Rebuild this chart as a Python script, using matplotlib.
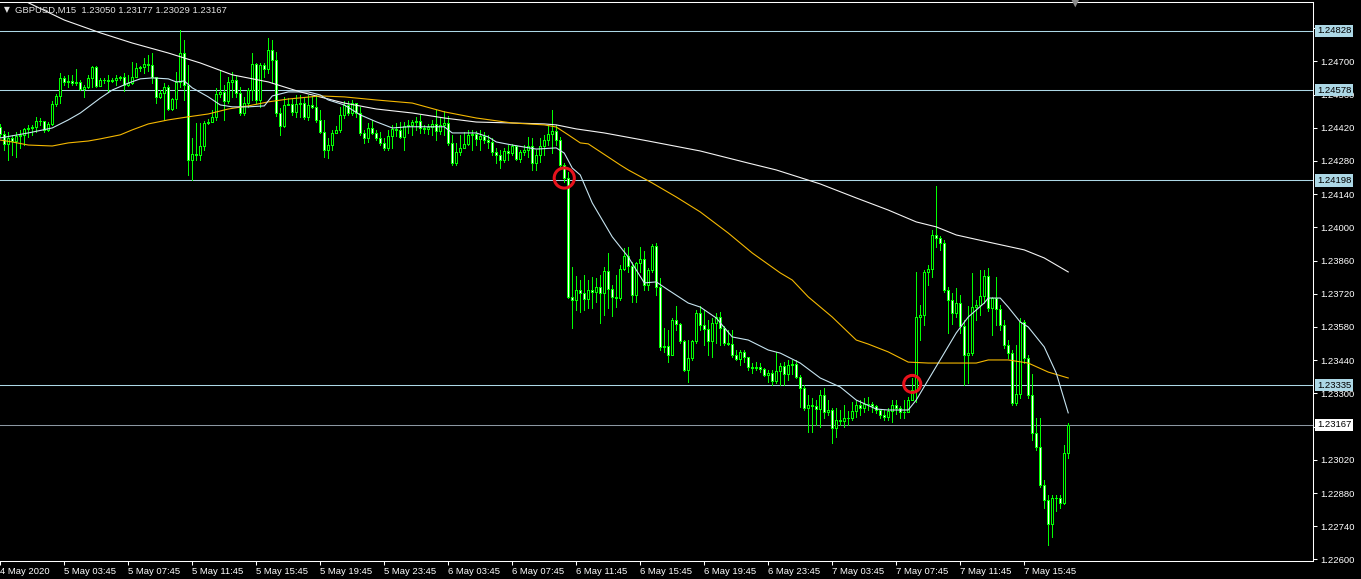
import matplotlib
matplotlib.use("Agg")
import matplotlib.pyplot as plt
from matplotlib.ticker import FuncFormatter
from matplotlib.transforms import blended_transform_factory

# ---------------- data (GBPUSD M15, bar index 0 = 4 May 23:45) ----------------
first_open = 1.24424

closes = [
    1.24394, 1.24351, 1.24377, 1.24364, 1.24386, 1.24390, 1.24415, 1.24419, 1.24424, 1.24449,
    1.24449, 1.24411, 1.24436, 1.24520, 1.24554, 1.24630, 1.24613, 1.24617, 1.24608, 1.24613,
    1.24583, 1.24592, 1.24630, 1.24677, 1.24596, 1.24621, 1.24621, 1.24617, 1.24621, 1.24630,
    1.24634, 1.24600, 1.24608, 1.24634, 1.24672, 1.24676, 1.24689, 1.24685, 1.24634, 1.24550,
    1.24566, 1.24592, 1.24499, 1.24541, 1.24613, 1.24735, 1.24600, 1.24284, 1.24309, 1.24305,
    1.24343, 1.24440, 1.24445, 1.24466, 1.24563, 1.24571, 1.24533, 1.24613, 1.24621, 1.24566,
    1.24482, 1.24524, 1.24579, 1.24689, 1.24537, 1.24685, 1.24668, 1.24748, 1.24706, 1.24482,
    1.24428, 1.24516, 1.24520, 1.24487, 1.24520, 1.24524, 1.24466, 1.24516, 1.24508, 1.24453,
    1.24403, 1.24326, 1.24347, 1.24398, 1.24411, 1.24474, 1.24516, 1.24482, 1.24524, 1.24482,
    1.24398, 1.24377, 1.24419, 1.24398, 1.24377, 1.24356, 1.24335, 1.24386, 1.24415, 1.24411,
    1.24381, 1.24428, 1.24432, 1.24445, 1.24449, 1.24419, 1.24415, 1.24424, 1.24436, 1.24407,
    1.24432, 1.24440, 1.24356, 1.24271, 1.24318, 1.24335, 1.24351, 1.24390, 1.24394, 1.24373,
    1.24386, 1.24368, 1.24360, 1.24318, 1.24305, 1.24284, 1.24322, 1.24313, 1.24343, 1.24288,
    1.24318, 1.24326, 1.24343, 1.24271, 1.24305, 1.24343, 1.24368, 1.24394, 1.24407, 1.24368,
    1.24263, 1.24208, 1.23707, 1.23694, 1.23736, 1.23723, 1.23698, 1.23736, 1.23728, 1.23749,
    1.23723, 1.23816, 1.23740, 1.23707, 1.23702, 1.23824, 1.23879, 1.23837, 1.23715, 1.23850,
    1.23866, 1.23757, 1.23820, 1.23921, 1.23749, 1.23496, 1.23500, 1.23462, 1.23610, 1.23593,
    1.23521, 1.23399, 1.23449, 1.23521, 1.23639, 1.23588, 1.23571, 1.23521, 1.23597, 1.23622,
    1.23576, 1.23512, 1.23508, 1.23462, 1.23445, 1.23475, 1.23454, 1.23411, 1.23407, 1.23411,
    1.23403, 1.23378, 1.23386, 1.23353, 1.23394, 1.23416, 1.23382, 1.23420, 1.23424, 1.23369,
    1.23323, 1.23239, 1.23251, 1.23247, 1.23234, 1.23294, 1.23222, 1.23230, 1.23154, 1.23188,
    1.23184, 1.23196, 1.23196, 1.23226, 1.23251, 1.23239, 1.23256, 1.23256, 1.23247, 1.23230,
    1.23209, 1.23201, 1.23226, 1.23251, 1.23239, 1.23222, 1.23222, 1.23272, 1.23315, 1.23622,
    1.23631, 1.23812, 1.23824, 1.23968, 1.23955, 1.23934, 1.23736, 1.23694, 1.23639, 1.23681,
    1.23584, 1.23462, 1.23470, 1.23664, 1.23673, 1.23711, 1.23795, 1.23660, 1.23702, 1.23656,
    1.23588, 1.23504, 1.23470, 1.23260, 1.23298, 1.23601, 1.23449, 1.23294, 1.23133, 1.23074,
    1.22914, 1.22851, 1.22750, 1.22860, 1.22860, 1.22838, 1.23050, 1.23167,
]

highs = [
    1.24436, 1.24407, 1.24403, 1.24390, 1.24403, 1.24411, 1.24419, 1.24432, 1.24432, 1.24466,
    1.24462, 1.24445, 1.24445, 1.24533, 1.24563, 1.24651, 1.24638, 1.24643, 1.24643, 1.24668,
    1.24621, 1.24600, 1.24643, 1.24680, 1.24680, 1.24630, 1.24630, 1.24643, 1.24630, 1.24643,
    1.24638, 1.24651, 1.24643, 1.24697, 1.24693, 1.24680, 1.24714, 1.24727, 1.24735, 1.24634,
    1.24579, 1.24608, 1.24600, 1.24545, 1.24655, 1.24832, 1.24790, 1.24685, 1.24377, 1.24440,
    1.24440, 1.24449, 1.24457, 1.24495, 1.24588, 1.24664, 1.24600, 1.24634, 1.24655, 1.24638,
    1.24592, 1.24550, 1.24588, 1.24735, 1.24693, 1.24693, 1.24693, 1.24798, 1.24790, 1.24739,
    1.24503, 1.24550, 1.24545, 1.24541, 1.24558, 1.24558, 1.24550, 1.24558, 1.24554, 1.24558,
    1.24495, 1.24453, 1.24377, 1.24411, 1.24428, 1.24508, 1.24533, 1.24533, 1.24537, 1.24520,
    1.24508, 1.24411, 1.24440, 1.24453, 1.24411, 1.24403, 1.24377, 1.24411, 1.24432, 1.24440,
    1.24445, 1.24445, 1.24453, 1.24453, 1.24466, 1.24474, 1.24432, 1.24436, 1.24453, 1.24495,
    1.24466, 1.24491, 1.24470, 1.24390, 1.24356, 1.24390, 1.24403, 1.24411, 1.24411, 1.24407,
    1.24411, 1.24403, 1.24390, 1.24377, 1.24335, 1.24326, 1.24335, 1.24347, 1.24351, 1.24347,
    1.24326, 1.24347, 1.24381, 1.24377, 1.24326, 1.24377, 1.24390, 1.24432, 1.24495, 1.24432,
    1.24381, 1.24271, 1.24234, 1.23833, 1.23795, 1.23778, 1.23799, 1.23778, 1.23791, 1.23787,
    1.23799, 1.23833, 1.23892, 1.23757, 1.23799, 1.23841, 1.23913, 1.23917, 1.23854, 1.23854,
    1.23917, 1.23900, 1.23829, 1.23930, 1.23934, 1.23787, 1.23576, 1.23567, 1.23618, 1.23669,
    1.23597, 1.23525, 1.23525, 1.23525, 1.23652, 1.23669, 1.23652, 1.23610, 1.23618, 1.23639,
    1.23643, 1.23584, 1.23567, 1.23567, 1.23483, 1.23483, 1.23483, 1.23453, 1.23428, 1.23432,
    1.23428, 1.23407, 1.23399, 1.23399, 1.23475, 1.23428, 1.23432, 1.23441, 1.23441, 1.23441,
    1.23378, 1.23336, 1.23294, 1.23281, 1.23272, 1.23315, 1.23323, 1.23272, 1.23239, 1.23239,
    1.23230, 1.23251, 1.23226, 1.23264, 1.23272, 1.23272, 1.23281, 1.23285, 1.23264, 1.23251,
    1.23230, 1.23230, 1.23239, 1.23272, 1.23272, 1.23247, 1.23272, 1.23285, 1.23365, 1.23812,
    1.23673, 1.23820, 1.23841, 1.23989, 1.24175, 1.23964, 1.23947, 1.23749, 1.23723, 1.23745,
    1.23715, 1.23610, 1.23669, 1.23808, 1.23694, 1.23820, 1.23820, 1.23829, 1.23707, 1.23791,
    1.23673, 1.23610, 1.23525, 1.23483, 1.23504, 1.23618, 1.23610, 1.23462, 1.23382, 1.23196,
    1.23196, 1.22935, 1.22872, 1.22872, 1.22872, 1.22872, 1.23083, 1.23177,
]

lows = [
    1.24381, 1.24326, 1.24284, 1.24305, 1.24296, 1.24335, 1.24347, 1.24381, 1.24390, 1.24403,
    1.24432, 1.24403, 1.24407, 1.24432, 1.24512, 1.24524, 1.24600, 1.24592, 1.24600, 1.24600,
    1.24579, 1.24550, 1.24588, 1.24592, 1.24592, 1.24596, 1.24608, 1.24571, 1.24613, 1.24600,
    1.24621, 1.24575, 1.24596, 1.24604, 1.24634, 1.24659, 1.24651, 1.24659, 1.24608, 1.24524,
    1.24545, 1.24453, 1.24495, 1.24495, 1.24503, 1.24592, 1.24537, 1.24221, 1.24200, 1.24284,
    1.24284, 1.24326, 1.24436, 1.24445, 1.24453, 1.24550, 1.24453, 1.24524, 1.24550, 1.24550,
    1.24474, 1.24474, 1.24508, 1.24537, 1.24524, 1.24508, 1.24634, 1.24651, 1.24608, 1.24470,
    1.24390, 1.24424, 1.24516, 1.24474, 1.24466, 1.24466, 1.24457, 1.24453, 1.24503, 1.24445,
    1.24398, 1.24296, 1.24292, 1.24326, 1.24398, 1.24403, 1.24462, 1.24474, 1.24474, 1.24466,
    1.24390, 1.24356, 1.24360, 1.24394, 1.24368, 1.24347, 1.24326, 1.24326, 1.24335, 1.24386,
    1.24377, 1.24326, 1.24398, 1.24390, 1.24411, 1.24398, 1.24398, 1.24394, 1.24390, 1.24368,
    1.24394, 1.24390, 1.24347, 1.24263, 1.24263, 1.24305, 1.24335, 1.24347, 1.24326, 1.24347,
    1.24326, 1.24356, 1.24335, 1.24305, 1.24271, 1.24250, 1.24275, 1.24284, 1.24305, 1.24284,
    1.24275, 1.24305, 1.24296, 1.24242, 1.24242, 1.24275, 1.24305, 1.24347, 1.24313, 1.24347,
    1.24250, 1.24191, 1.23702, 1.23576, 1.23652, 1.23643, 1.23652, 1.23660, 1.23660, 1.23685,
    1.23597, 1.23631, 1.23660, 1.23626, 1.23664, 1.23694, 1.23820, 1.23812, 1.23685, 1.23685,
    1.23812, 1.23736, 1.23736, 1.23812, 1.23715, 1.23483, 1.23475, 1.23432, 1.23462, 1.23567,
    1.23512, 1.23394, 1.23348, 1.23441, 1.23512, 1.23567, 1.23504, 1.23462, 1.23453, 1.23512,
    1.23504, 1.23504, 1.23504, 1.23453, 1.23441, 1.23420, 1.23432, 1.23399, 1.23386, 1.23399,
    1.23390, 1.23373, 1.23348, 1.23336, 1.23344, 1.23336, 1.23336, 1.23357, 1.23382, 1.23365,
    1.23243, 1.23230, 1.23137, 1.23137, 1.23167, 1.23158, 1.23196, 1.23209, 1.23091, 1.23116,
    1.23167, 1.23158, 1.23167, 1.23188, 1.23201, 1.23209, 1.23222, 1.23230, 1.23222, 1.23218,
    1.23196, 1.23188, 1.23188, 1.23180, 1.23213, 1.23196, 1.23196, 1.23222, 1.23272, 1.23264,
    1.23525, 1.23588, 1.23757, 1.23791, 1.23916, 1.23905, 1.23728, 1.23555, 1.23593, 1.23622,
    1.23555, 1.23336, 1.23344, 1.23462, 1.23610, 1.23631, 1.23681, 1.23647, 1.23546, 1.23588,
    1.23567, 1.23491, 1.23449, 1.23251, 1.23251, 1.23281, 1.23428, 1.23281, 1.23104, 1.23062,
    1.22905, 1.22818, 1.22661, 1.22695, 1.22805, 1.22818, 1.22835, 1.23029,
]

# moving averages at these bar indices
slow_ma_bars = [0, 5, 16, 25, 33, 42, 50, 58, 67, 75, 86, 94, 103, 111, 119, 128, 136,
                139, 144, 151, 162, 175, 187, 194, 205, 214, 222, 229, 234, 239, 247,
                256, 261, 267]
slow_ma = [1.25001, 1.24963, 1.24874, 1.24820, 1.24777, 1.24735, 1.24693, 1.24643,
           1.24613, 1.24571, 1.24524, 1.24499, 1.24482, 1.24461, 1.24444, 1.24440,
           1.24436, 1.24432, 1.24415, 1.24398, 1.24364, 1.24322, 1.24271, 1.24242,
           1.24183, 1.24124, 1.24073, 1.24023, 1.24002, 1.23968, 1.23938, 1.23905,
           1.23871, 1.23812]

mid_ma_bars = [0, 3, 7, 13, 17, 22, 25, 30, 33, 37, 42, 47, 52, 57, 62, 67, 72, 80, 86,
               94, 103, 111, 119, 128, 136, 139, 142, 145, 147, 155, 157, 163, 169, 175,
               182, 188, 195, 198, 202, 208, 214, 217, 222, 227, 232, 237, 244, 247,
               252, 257, 262, 267]
mid_ma = [1.24368, 1.24360, 1.24347, 1.24343, 1.24356, 1.24364, 1.24373, 1.24390,
          1.24411, 1.24436, 1.24453, 1.24466, 1.24478, 1.24499, 1.24512, 1.24529,
          1.24541, 1.24554, 1.24550, 1.24537, 1.24524, 1.24487, 1.24461, 1.24440,
          1.24432, 1.24423, 1.24390, 1.24356, 1.24352, 1.24263, 1.24242, 1.24187,
          1.24128, 1.24065, 1.23976, 1.23892, 1.23808, 1.23778, 1.23707, 1.23622,
          1.23525, 1.23508, 1.23475, 1.23432, 1.23428, 1.23428, 1.23428, 1.23441,
          1.23441, 1.23428, 1.23390, 1.23365]

fast_ma_bars = [0, 7, 13, 17, 20, 25, 28, 32, 35, 38, 42, 44, 46, 48, 52, 55, 58, 62, 66,
                68, 72, 77, 80, 82, 86, 90, 94, 98, 102, 107, 111, 113, 119, 122, 124,
                128, 134, 139, 141, 143, 145, 148, 153, 157, 161, 164, 167, 172, 175,
                179, 183, 187, 192, 195, 200, 205, 210, 214, 219, 222, 227, 229, 232,
                236, 239, 242, 246, 247, 250, 252, 255, 257, 261, 264, 267]
fast_ma = [1.24377, 1.24398, 1.24419, 1.24453, 1.24482, 1.24545, 1.24579, 1.24608,
           1.24626, 1.24630, 1.24626, 1.24613, 1.24617, 1.24588, 1.24550, 1.24516,
           1.24508, 1.24508, 1.24512, 1.24554, 1.24571, 1.24571, 1.24558, 1.24537,
           1.24516, 1.24474, 1.24445, 1.24419, 1.24424, 1.24424, 1.24424, 1.24398,
           1.24398, 1.24381, 1.24360, 1.24347, 1.24330, 1.24335, 1.24313, 1.24250,
           1.24221, 1.24103, 1.23960, 1.23875, 1.23766, 1.23770, 1.23736, 1.23681,
           1.23664, 1.23618, 1.23538, 1.23525, 1.23483, 1.23470, 1.23428, 1.23365,
           1.23327, 1.23272, 1.23234, 1.23230, 1.23230, 1.23272, 1.23357, 1.23470,
           1.23555, 1.23622, 1.23681, 1.23702, 1.23702, 1.23664, 1.23601, 1.23580,
           1.23496, 1.23386, 1.23218]

levels = [1.24828, 1.24578, 1.24198, 1.23335]
bid = 1.23167

circle_bars = [141, 228]
circle_prices = [1.24208, 1.23340]

time_bars = [0, 16, 32, 48, 64, 80, 96, 112, 128, 144, 160, 176, 192, 208, 224, 240, 256]
time_labels = ["4 May 2020", "5 May 03:45", "5 May 07:45", "5 May 11:45", "5 May 15:45",
               "5 May 19:45", "5 May 23:45", "6 May 03:45", "6 May 07:45", "6 May 11:45",
               "6 May 15:45", "6 May 19:45", "6 May 23:45", "7 May 03:45", "7 May 07:45",
               "7 May 11:45", "7 May 15:45"]
price_ticks = [1.22600 + 0.0014 * k for k in range(17)]
# scale labels that sit fully under a price box in the terminal
hidden_ticks = [1.24840, 1.23160]

title = "GBPUSD,M15  1.23050 1.23177 1.23029 1.23167"

# ---------------- styling ----------------
GREEN = "#00ff00"
FONT = "Liberation Sans"
W, H = 1361, 579

fig = plt.figure(figsize=(W / 100, H / 100), dpi=100, facecolor="black")
ax = fig.add_axes([0, 18 / H, 1313 / W, 559 / H])
ax.set_facecolor("black")

# horizontal levels
for lv in levels:
    ax.axhline(lv, color="#add8e6", linewidth=0.75, zorder=1)
ax.axhline(bid, color="#8c98a2", linewidth=0.75, zorder=1)

# candles
idx = list(range(len(closes)))
opens = [first_open] + closes[:-1]
tops = [max(h, o, c) for h, o, c in zip(highs, opens, closes)]
bots = [min(l, o, c) for l, o, c in zip(lows, opens, closes)]
ax.vlines(idx, bots, tops, colors=GREEN, linewidth=0.72, zorder=3, antialiased=False)
body_low = [min(o, c) for o, c in zip(opens, closes)]
body_h = [abs(c - o) for o, c in zip(opens, closes)]
fills = ["black" if c > o else "white" for o, c in zip(opens, closes)]
ax.bar(idx, body_h, bottom=body_low, width=0.5, color=fills, edgecolor=GREEN,
       linewidth=0.72, zorder=4, antialiased=False)

# moving averages
ax.plot(slow_ma_bars, slow_ma, color="#f4f4f4", linewidth=0.8, zorder=5)
ax.plot(mid_ma_bars, mid_ma, color="#f5b800", linewidth=0.8, zorder=5)
ax.plot(fast_ma_bars, fast_ma, color="#c6e4f0", linewidth=0.8, zorder=5)

# red marks
ax.scatter(circle_bars, circle_prices, s=[210, 150], facecolors="none",
           edgecolors="#e8121c", linewidths=2.2, zorder=8)

ax.set_xlim(-0.075, 328.2)
ax.set_ylim(1.225935, 1.24950)

# axes frame
for side in ["top", "right", "bottom"]:
    ax.spines[side].set_color("white")
    ax.spines[side].set_linewidth(0.75)
ax.spines["left"].set_visible(False)


def price_fmt(v, pos):
    if any(abs(v - h) < 1e-7 for h in hidden_ticks):
        return ""
    return f"{v:.5f}"


ax.yaxis.tick_right()
ax.set_yticks(price_ticks)
ax.yaxis.set_major_formatter(FuncFormatter(price_fmt))
ax.tick_params(axis="y", colors="white", labelcolor="white", length=3, width=0.75,
               direction="out", pad=2, labelsize=6.8)
ax.set_xticks(time_bars)
ax.set_xticklabels(time_labels, ha="left")
ax.tick_params(axis="x", colors="white", labelcolor="white", length=3, width=0.75,
               direction="out", pad=1, labelsize=6.8)
for lab in ax.get_xticklabels() + ax.get_yticklabels():
    lab.set_fontfamily(FONT)

# price boxes on the right scale
tr = blended_transform_factory(ax.transAxes, ax.transData)
for lv in levels:
    ax.text(1 + 4 / 1313, lv, f"{lv:.5f}", transform=tr, ha="left", va="center",
            fontsize=6.8, family=FONT, color="black", zorder=10, clip_on=False,
            bbox=dict(boxstyle="square,pad=0.18", fc="#add8e6", ec="none"))
ax.text(1 + 4 / 1313, bid, f"{bid:.5f}", transform=tr, ha="left", va="center",
        fontsize=6.8, family=FONT, color="black", zorder=10, clip_on=False,
        bbox=dict(boxstyle="square,pad=0.18", fc="white", ec="none"))

# header
fig.text(4 / W, 1 - 10 / H, "\u25bc", color="#e0e0e0", fontsize=5.5, va="center",
         family="DejaVu Sans")
fig.text(15 / W, 1 - 10 / H, title, color="#e0e0e0", fontsize=6.8, va="center",
         family=FONT)
fig.text(1075 / W, 1 - 3 / H, "\u25bc", color="#8a8a8a", fontsize=8, ha="center",
         va="center", family="DejaVu Sans")

fig.savefig("out.png", dpi=100, facecolor="black")
